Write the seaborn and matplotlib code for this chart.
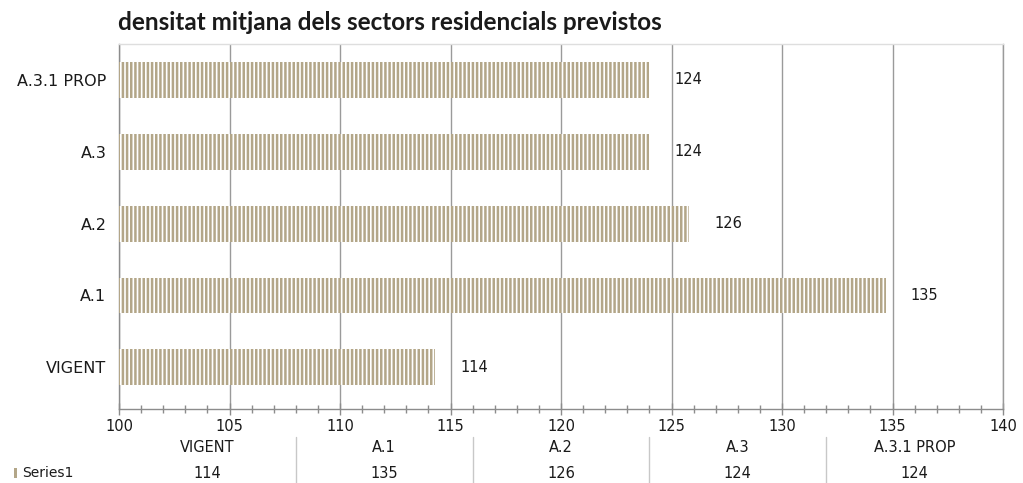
import matplotlib
matplotlib.use("Agg")
import matplotlib.pyplot as plt
from matplotlib.patches import Rectangle
from matplotlib.ticker import MultipleLocator
import seaborn as sns
import pandas as pd

# Average density of planned residential sectors
categories = ["A.3.1 PROP", "A.3", "A.2", "A.1", "VIGENT"]
values = [124.0, 124.0, 125.8, 134.7, 114.3]
table_order = ["VIGENT", "A.1", "A.2", "A.3", "A.3.1 PROP"]
series_name = "Series1"
title = "densitat mitjana dels sectors residencials previstos"

BAR = "#b3a688"
GRID = "#9a9a9a"
TXT = "#1a1a1a"

sns.set_theme(style="white")
plt.rcParams["font.family"] = ["DejaVu Sans"]
plt.rcParams["hatch.linewidth"] = 1.8

df = pd.DataFrame({"sector": categories, "densitat": values})

W, H = 1023, 483
ax_l, ax_r, ax_t, ax_b = 119, 1003, 44, 409
fig = plt.figure(figsize=(W / 100, H / 100), dpi=100)
ax = fig.add_axes([ax_l / W, 1 - ax_b / H, (ax_r - ax_l) / W, (ax_b - ax_t) / H])
ax_h = ax_b - ax_t

sns.barplot(data=df, y="sector", x="densitat", orient="h", order=categories,
            color="white", width=0.5, ax=ax, zorder=3)
for p in ax.patches:
    p.set_facecolor("white")
    p.set_edgecolor(BAR)
    p.set_linewidth(0)
    p.set_hatch("||||")

ax.set_xlim(100, 140)
ax.set_ylim(4.58, -0.5)
ax.xaxis.set_major_locator(MultipleLocator(5))
ax.xaxis.set_minor_locator(MultipleLocator(1))
ax.grid(axis="x", which="major", color=GRID, linewidth=1.0, zorder=0)
ax.set_axisbelow(True)
ax.set_xlabel("")
ax.set_ylabel("")

ax.spines["top"].set_color("#dedede")
ax.spines["top"].set_linewidth(1.0)
ax.spines["right"].set_color(GRID)
ax.spines["right"].set_linewidth(1.0)
for s in ["left", "bottom"]:
    ax.spines[s].set_color("#8c8c8c")
    ax.spines[s].set_linewidth(1.0)

ax.tick_params(axis="x", which="major", direction="inout", length=8, width=1,
               color="#8c8c8c", labelsize=10.5, labelcolor=TXT, pad=3, bottom=True)
ax.tick_params(axis="x", which="minor", direction="inout", length=6, width=1,
               color="#8c8c8c", bottom=True)
ax.tick_params(axis="y", length=0, labelsize=11.5, labelcolor=TXT, pad=9)

# value labels beside each bar
for cont in ax.containers:
    ax.bar_label(cont, labels=[f"{v:.0f}" for v in cont.datavalues], padding=18,
                 fontsize=10.5, color=TXT)

fig.text(118 / W, 1 - 22 / H, title, fontsize=17.5, fontweight="bold",
         family=["Lato", "DejaVu Sans"], color=TXT, va="center", ha="left")

# data table under the axis
row1_y = -(447 - ax_b) / ax_h
row2_y = -(473 - ax_b) / ax_h
line_top = -(437 - ax_b) / ax_h
line_bot = -(483 - ax_b) / ax_h
n = len(table_order)
lookup = dict(zip(categories, values))
for i, name in enumerate(table_order):
    xc = (i + 0.5) / n
    ax.text(xc, row1_y, name, transform=ax.transAxes, ha="center", va="center",
            fontsize=10.5, color=TXT)
    ax.text(xc, row2_y, f"{lookup[name]:.0f}", transform=ax.transAxes,
            ha="center", va="center", fontsize=10.5, color=TXT)
    if i > 0:
        ax.plot([i / n, i / n], [line_top, line_bot], transform=ax.transAxes,
                color="#c8c8c8", linewidth=1, clip_on=False)

# legend key for the series row
fig.patches.append(Rectangle((14 / W, 1 - 478 / H), 3 / W, 10 / H,
                             transform=fig.transFigure, facecolor=BAR,
                             edgecolor="none"))
fig.text(22 / W, 1 - 473 / H, series_name, fontsize=10, color=TXT,
         va="center", ha="left")

fig.savefig("out.png", dpi=100, facecolor="white")
